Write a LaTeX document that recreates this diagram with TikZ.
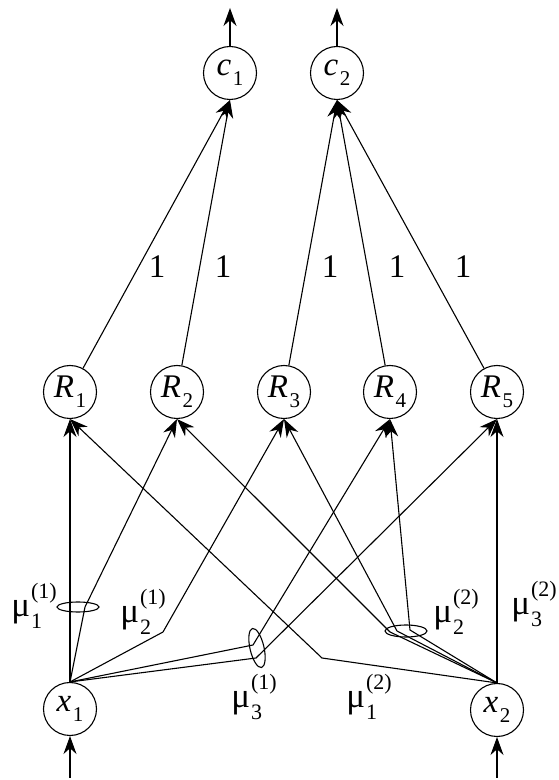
\documentclass[tikz,border=0pt]{standalone}
\usepackage{fontspec}
\setmainfont{Liberation Serif}
\usetikzlibrary{arrows.meta}
\newcommand{\nodelab}[2]{{\itshape #1}\kern1.5pt\raisebox{-0.3em}{\fontsize{21}{21}\selectfont #2}}
\newcommand{\mulabel}[2]{μ\kern1pt\raisebox{-0.35em}{\fontsize{22}{22}\selectfont\rlap{#1}}\raisebox{0.5em}{\fontsize{22}{22}\selectfont(#2)}}
\begin{document}
\begin{tikzpicture}[x=1pt,y=1pt,
  neuron/.style={circle,draw,line width=1.1pt,minimum size=53pt,inner sep=0pt,font=\fontsize{33}{36}\selectfont},
  conn/.style={line width=1.1pt},
  arr/.style={conn,-{Stealth[length=18pt,width=13pt]}},
  onelab/.style={font=\fontsize{33}{36}\selectfont,inner sep=0pt},
  mulab/.style={font=\fontsize{35}{38}\selectfont,inner sep=0pt},
  mf/.style={draw,line width=1.1pt}]
\useasboundingbox (0,0) rectangle (559,780);
% nodes
\node[neuron] (c1) at (230,707) {\nodelab{c}{1}};
\node[neuron] (c2) at (337,707) {\nodelab{c}{2}};
\node[neuron] (R1) at (70,388) {\nodelab{R}{1}};
\node[neuron] (R2) at (177,388) {\nodelab{R}{2}};
\node[neuron] (R3) at (284,388) {\nodelab{R}{3}};
\node[neuron] (R4) at (390,388) {\nodelab{R}{4}};
\node[neuron] (R5) at (497,388) {\nodelab{R}{5}};
\node[neuron] (x1) at (70,71) {\nodelab{x}{1}};
\node[neuron] (x2) at (497,70) {\nodelab{x}{2}};
% free ends
\coordinate (o1) at (230,772);
\coordinate (o2) at (337,772);
\coordinate (i1) at (70,2);
\coordinate (i2) at (497,2);
% bend points
\coordinate (b11) at (85,173);
\coordinate (b21) at (163,148);
\coordinate (b31a) at (253,135);
\coordinate (b31b) at (256,122);
\coordinate (b12) at (322,122);
\coordinate (b22a) at (390,148);
\coordinate (b22b) at (397,149);
\coordinate (b22c) at (410,150);
\coordinate (E1) at (78,173);
\coordinate (E3) at (257,132);
\coordinate (E5) at (406,149);
% outputs and inputs
\draw[arr] (c1) -- (o1);
\draw[arr] (c2) -- (o2);
\draw[arr] (i1) -- (x1);
\draw[arr] (i2) -- (x2);
% rules to classes
\draw[arr] (R1) -- (c1.south);
\draw[arr] (R2) -- (c1.south);
\draw[arr] (R3) -- (c2.south);
\draw[arr] (R4) -- (c2.south);
\draw[arr] (R5) -- (c2.south);
\node[onelab] (w1) at (157,513) {1};
\node[onelab] (w2) at (223,513) {1};
\node[onelab] (w3) at (330,513) {1};
\node[onelab] (w4) at (397,513) {1};
\node[onelab] (w5) at (463,513) {1};
% inputs to rules
\draw[arr] (x1.north) -- (R1.south);
\draw[arr] (x1.north) -- (b11) -- (R2.south);
\draw[arr] (x1.north) -- (b21) -- (R3.south);
\draw[arr] (x1.north) -- (b31a) -- (R4.south);
\draw[arr] (x1.north) -- (b31b) -- (R5.south);
\draw[arr] (x2.north) -- (b12) -- (R1.south);
\draw[arr] (x2.north) -- (b22a) -- (R2.south);
\draw[arr] (x2.north) -- (b22b) -- (R3.south);
\draw[arr] (x2.north) -- (b22c) -- (R4.south);
\draw[arr] (x2.north) -- (R5.south);
% membership ellipses
\draw[mf] (E1) ellipse [x radius=21, y radius=5];
\draw[mf,rotate around={13:(E3)}] (E3) ellipse [x radius=7, y radius=20];
\draw[mf] (E5) ellipse [x radius=21, y radius=6];
% labels
\node[mulab] (m11) at (34,174) {\mulabel{1}{1}};
\node[mulab] (m21) at (143,168) {\mulabel{2}{1}};
\node[mulab] (m31) at (254,83) {\mulabel{3}{1}};
\node[mulab] (m12) at (369,83) {\mulabel{1}{2}};
\node[mulab] (m22) at (456,168) {\mulabel{2}{2}};
\node[mulab] (m32) at (534,176) {\mulabel{3}{2}};
\end{tikzpicture}
\end{document}
